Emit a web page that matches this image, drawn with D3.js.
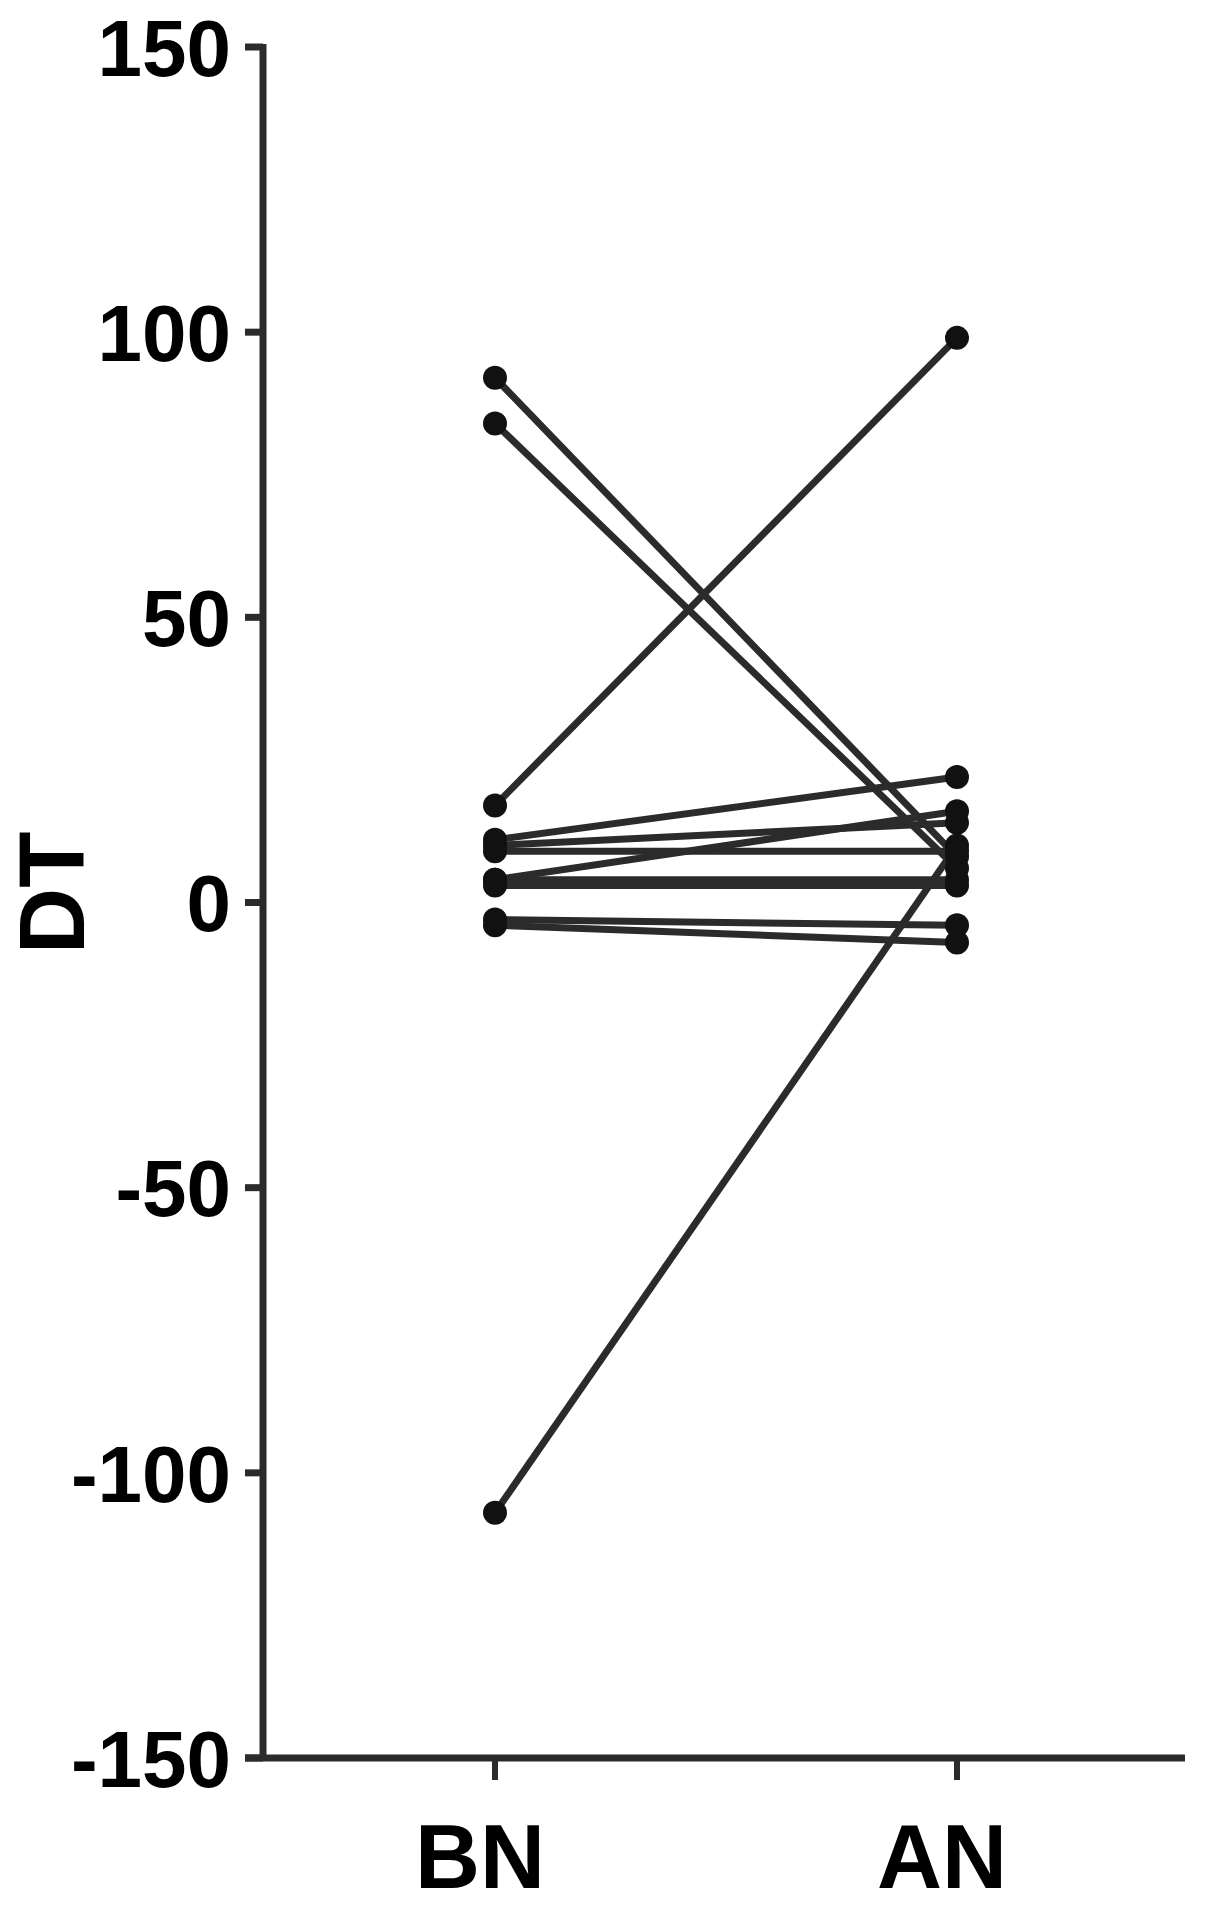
<!DOCTYPE html>
<html>
<head>
<meta charset="utf-8">
<script src="https://cdn.jsdelivr.net/npm/d3@7"></script>
<style>
  body { margin: 0; background: #fff; }
  text { font-family: "Liberation Sans", Arial, sans-serif; font-weight: bold; fill: #000; }
</style>
</head>
<body>
<svg id="chart" width="1205" height="1910"></svg>
<script>
// groups on the x axis
const groups = ["BN", "AN"];

// one value per subject, before (BN) and after (AN)
const bnValues = [92, 84, 17, -107, 11, 10, 9, 4, 4, 3, -3, -4];
const anValues = [8, 6, 99, 10, 22, 14, 9, 16, 4, 3, -4, -7];

const yTicks = [150, 100, 50, 0, -50, -100, -150];
const yLabel = "DT";

const svg = d3.select("#chart");

// scales
const x = d3.scalePoint().domain(groups).range([495, 957]);
const y = d3.scaleLinear().domain([-150, 150]).range([1758, 47]);

const axisLeft = 263, axisBottom = 1758;
const ink = "#2b2b2b";

// pairs of points, one per subject
const pairs = bnValues.map(function (v, i) {
    return [{g: "BN", v: v}, {g: "AN", v: anValues[i]}];
});

const line = d3.line()
    .x(function (d) { return x(d.g); })
    .y(function (d) { return y(d.v); });

svg.append("g").selectAll("path")
    .data(pairs)
    .enter().append("path")
    .attr("d", line)
    .attr("fill", "none")
    .attr("stroke", ink)
    .attr("stroke-width", 7);

svg.append("g").selectAll("circle")
    .data(pairs.flat())
    .enter().append("circle")
    .attr("cx", function (d) { return x(d.g); })
    .attr("cy", function (d) { return y(d.v); })
    .attr("r", 12)
    .attr("fill", "#111");

// y axis
const yAxis = svg.append("g");
yAxis.append("line")
    .attr("x1", axisLeft).attr("x2", axisLeft)
    .attr("y1", y(150) - 3).attr("y2", axisBottom)
    .attr("stroke", ink).attr("stroke-width", 7);
yAxis.selectAll(".tick")
    .data(yTicks)
    .enter().append("line")
    .attr("x1", 245).attr("x2", axisLeft)
    .attr("y1", function (d) { return y(d); })
    .attr("y2", function (d) { return y(d); })
    .attr("stroke", ink).attr("stroke-width", 7);
yAxis.selectAll("text")
    .data(yTicks)
    .enter().append("text")
    .attr("x", 231)
    .attr("y", function (d) { return y(d); })
    .attr("dy", "0.36em")
    .attr("text-anchor", "end")
    .attr("font-size", 80)
    .text(function (d) { return d; });

// x axis
const xAxis = svg.append("g");
xAxis.append("line")
    .attr("x1", 245).attr("x2", 1185)
    .attr("y1", axisBottom).attr("y2", axisBottom)
    .attr("stroke", ink).attr("stroke-width", 7);
xAxis.selectAll(".tick")
    .data(groups)
    .enter().append("line")
    .attr("x1", function (d) { return x(d); })
    .attr("x2", function (d) { return x(d); })
    .attr("y1", axisBottom).attr("y2", axisBottom + 22)
    .attr("stroke", ink).attr("stroke-width", 6);
xAxis.selectAll("text")
    .data(groups)
    .enter().append("text")
    .attr("x", function (d) { return x(d) - 15; })
    .attr("y", 1888)
    .attr("text-anchor", "middle")
    .attr("font-size", 90)
    .text(function (d) { return d; });

// y label
svg.append("text")
    .attr("transform", "translate(84," + 893 + ") rotate(-90)")
    .attr("text-anchor", "middle")
    .attr("font-size", 92)
    .text(yLabel);
</script>
</body>
</html>
